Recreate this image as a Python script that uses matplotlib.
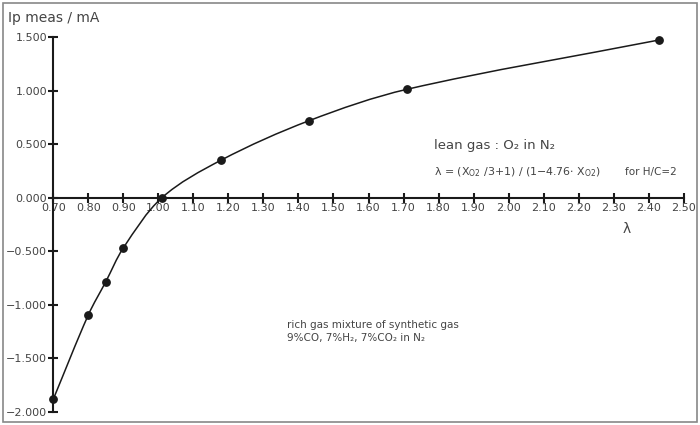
import matplotlib
matplotlib.use("Agg")
import matplotlib.pyplot as plt
import numpy as np
from matplotlib.path import Path
from matplotlib.patches import PathPatch, Rectangle

# measured pump current vs lambda
lam = [0.70, 0.80, 0.85, 0.90, 1.01, 1.18, 1.43, 1.71, 2.43]
ip = [-1.883, -1.095, -0.784, -0.469, 0.0, 0.353, 0.72, 1.014, 1.475]

x_ticks = [0.70, 0.80, 0.90, 1.00, 1.10, 1.20, 1.30, 1.40, 1.50, 1.60, 1.70,
           1.80, 1.90, 2.00, 2.10, 2.20, 2.30, 2.40, 2.50]
y_ticks = [-2.0, -1.5, -1.0, -0.5, 0.0, 0.5, 1.0, 1.5]

TXT = "#444444"
LINE = "#1a1a1a"

plt.rcParams["font.family"] = ["DejaVu Sans"]

fig = plt.figure(figsize=(7, 4.25), dpi=100)
ax = fig.add_axes([53.3 / 700, 13.3 / 425, 630.4 / 700, 374.4 / 425])
ax.set_xlim(0.70, 2.50)
ax.set_ylim(-2.0, 1.5)

# outer frame of the picture
fig.patches.append(Rectangle((3 / 700, 3 / 425), 694 / 700, 419 / 425,
                             transform=fig.transFigure, fill=False,
                             edgecolor="#888888", linewidth=1.2))

for s in ["top", "right"]:
    ax.spines[s].set_visible(False)
ax.spines["left"].set_position(("data", 0.70))
ax.spines["bottom"].set_position(("data", 0.0))
for s in ["left", "bottom"]:
    ax.spines[s].set_linewidth(1.5)
    ax.spines[s].set_color(LINE)

ax.set_xticks(x_ticks)
ax.set_xticklabels([f"{v:.2f}" for v in x_ticks])
ax.set_yticks(y_ticks)
ax.set_yticklabels([f"{v:.3f}".replace("-", "\u2212") for v in y_ticks])
ax.tick_params(direction="inout", length=7, width=1.5, color=LINE,
               labelsize=8, labelcolor=TXT, pad=1)
ax.tick_params(axis="x", pad=0)

# smooth curve through the points (cubic bezier, chord-length tangents)
pts = ax.transData.transform(np.column_stack([lam, ip]))
t = np.concatenate([[0], np.cumsum(np.hypot(*np.diff(pts, axis=0).T))])
n = len(pts)
tang = np.zeros_like(pts)
for i in range(n):
    a, b = max(i - 1, 0), min(i + 1, n - 1)
    tang[i] = (pts[b] - pts[a]) / (t[b] - t[a])
verts = [pts[0]]
codes = [Path.MOVETO]
for i in range(n - 1):
    h = (t[i + 1] - t[i]) / 3
    verts += [pts[i] + tang[i] * h, pts[i + 1] - tang[i + 1] * h, pts[i + 1]]
    codes += [Path.CURVE4] * 3
verts = ax.transData.inverted().transform(np.array(verts))
ax.add_patch(PathPatch(Path(verts, codes), fill=False, edgecolor=LINE,
                       linewidth=1.1, zorder=3))
ax.plot(lam, ip, "o", color=LINE, markersize=5.3, zorder=4, clip_on=False)

fig.text(8 / 700, 1 - 18 / 425, "Ip meas / mA", fontsize=10, color=TXT,
         va="center", ha="left")
fig.text(627 / 700, 1 - 229 / 425, "λ", fontsize=10, color=TXT,
         va="center", ha="center")
fig.text(434 / 700, 1 - 146 / 425, "lean gas : O\u2082 in N\u2082", fontsize=9.5,
         color=TXT, va="center", ha="left")
fig.text(434 / 700, 1 - 172 / 425,
         r"λ = (X$_{\mathregular{O2}}$ /3+1) / (1−4.76$\cdot$ X$_{\mathregular{O2}}$)",
         fontsize=7.9, color=TXT, va="center", ha="left")
fig.text(625 / 700, 1 - 172 / 425, "for H/C=2", fontsize=7.5, color=TXT,
         va="center", ha="left")
fig.text(287 / 700, 1 - 325 / 425, "rich gas mixture of synthetic gas",
         fontsize=7.5, color=TXT, va="center", ha="left")
fig.text(287 / 700, 1 - 338 / 425, "9%CO, 7%H\u2082, 7%CO\u2082 in N\u2082",
         fontsize=7.5, color=TXT, va="center", ha="left")

fig.savefig("out.png", dpi=100)
